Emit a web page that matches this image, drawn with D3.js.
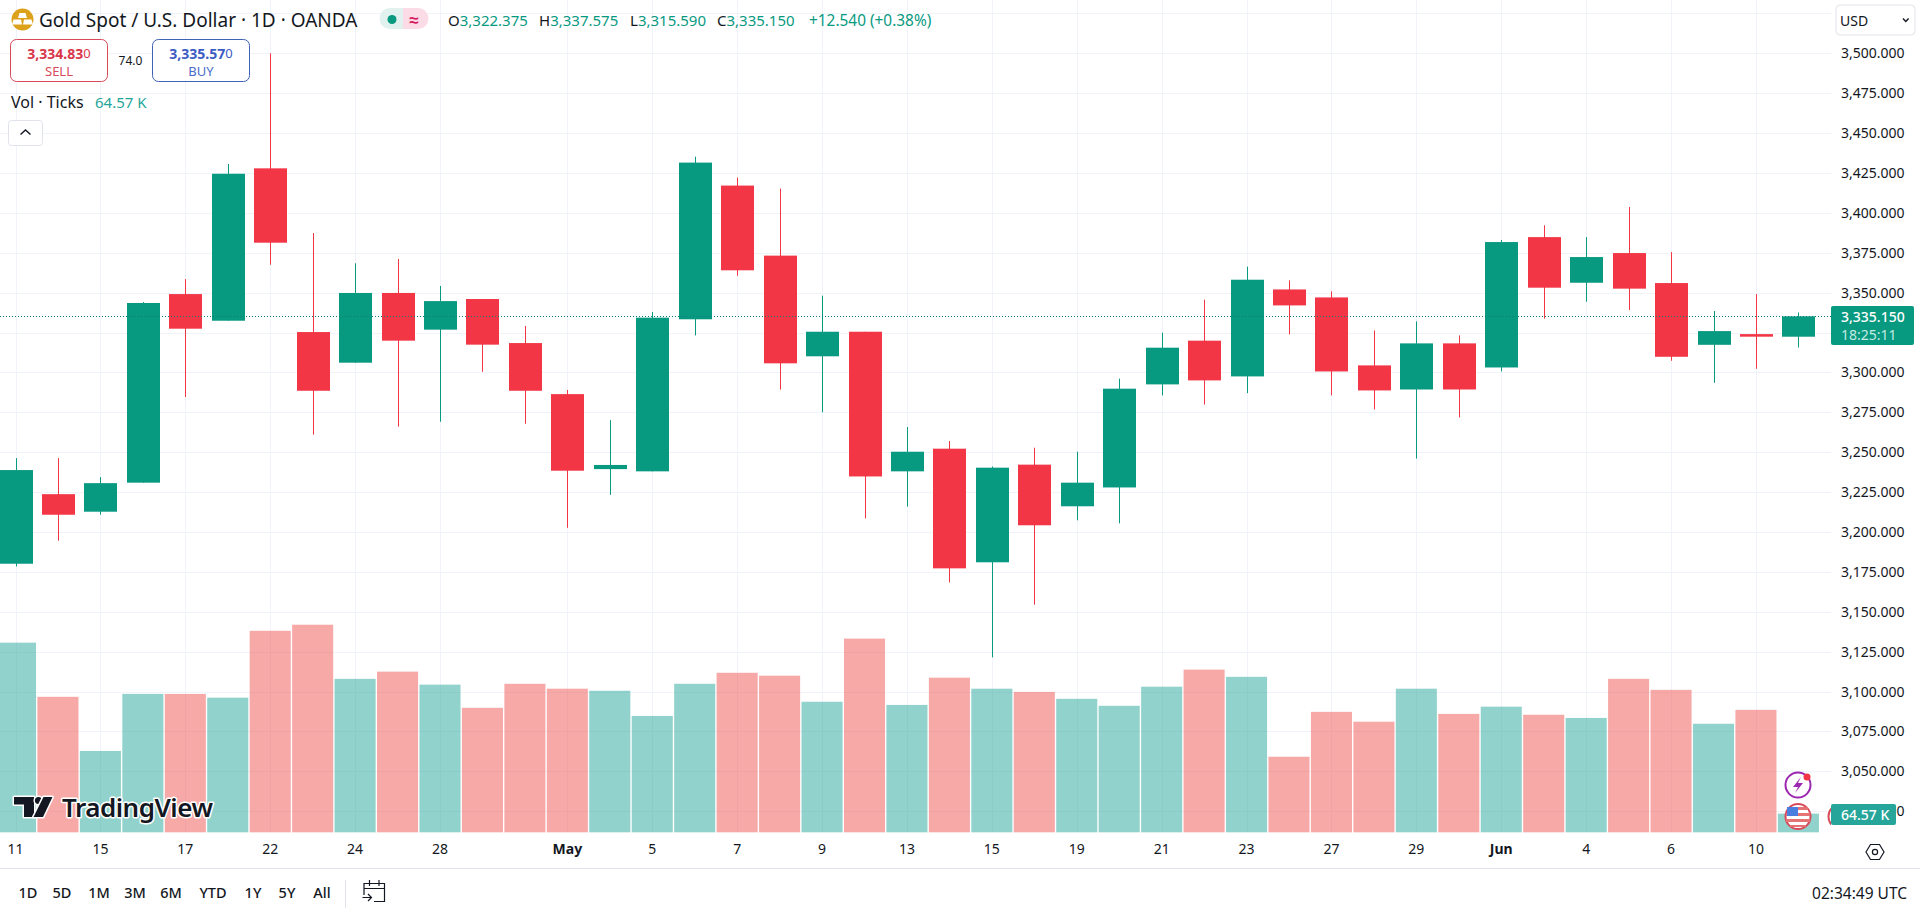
<!DOCTYPE html>
<html>
<head>
<meta charset="utf-8">
<title>Gold Spot / U.S. Dollar</title>
<script src="https://cdn.jsdelivr.net/npm/d3@7"></script>
<style>
    html, body { margin: 0; padding: 0; background: #fff; overflow: hidden; }
    svg { display: block; }
    text { font-family: "Noto Sans", sans-serif; fill: #131722; }
    .axis path, .axis line { display: none; }
    .axis text { font-family: "Noto Sans", sans-serif; font-size: 14px; fill: #131722; }
    .axis .month { font-weight: 700; }
</style>
</head>
<body>
<div id="chart"></div>
<script>
// trading days shown on the chart
const dates = [
    "2025-04-11", "2025-04-14", "2025-04-15", "2025-04-16", "2025-04-17", "2025-04-21", "2025-04-22", "2025-04-23",
    "2025-04-24", "2025-04-25", "2025-04-28", "2025-04-29", "2025-04-30", "2025-05-01", "2025-05-02", "2025-05-05",
    "2025-05-06", "2025-05-07", "2025-05-08", "2025-05-09", "2025-05-12", "2025-05-13", "2025-05-14", "2025-05-15",
    "2025-05-16", "2025-05-19", "2025-05-20", "2025-05-21", "2025-05-22", "2025-05-23", "2025-05-26", "2025-05-27",
    "2025-05-28", "2025-05-29", "2025-05-30", "2025-06-02", "2025-06-03", "2025-06-04", "2025-06-05", "2025-06-06",
    "2025-06-09", "2025-06-10", "2025-06-11"
];

// OHLC
const opens = [
    3180.1, 3223.7, 3212.7, 3230.9, 3349.1, 3332.4, 3427.9, 3325.3, 3306.1, 3349.8, 3326.8, 3346, 3318.4, 3286.4, 3239.4,
    3238, 3333.3, 3417.1, 3373.2, 3310.1, 3325.5, 3238, 3252.2, 3181, 3242.2, 3216.1, 3227.9, 3292.5, 3319.9, 3297.5,
    3352, 3347, 3304.4, 3289.3, 3318.2, 3303.1, 3384.8, 3356.2, 3374.8, 3356, 3317.3, 3324, 3322.375
];
const highs = [
    3246.3, 3246.3, 3234.4, 3344.1, 3358.5, 3430.6, 3500, 3387.4, 3368.4, 3371.1, 3354.2, 3346, 3329.1, 3289, 3270.1,
    3337.9, 3435.2, 3422.1, 3415.2, 3348.1, 3325.5, 3265.8, 3257, 3241, 3252.8, 3250.3, 3296.1, 3324.9, 3345.6, 3366.3,
    3357.7, 3350.8, 3326.3, 3332, 3323.2, 3383, 3392.2, 3384.8, 3403.7, 3375.4, 3338.5, 3349.1, 3337.575
];
const lows = [
    3178.4, 3194.5, 3210.8, 3230.9, 3284.6, 3332.4, 3367.5, 3261, 3306, 3266, 3269.1, 3300.4, 3267.8, 3202.6, 3223.3,
    3238, 3323.2, 3360.6, 3289.2, 3275, 3208.5, 3215.9, 3168.4, 3121.4, 3154.4, 3207.3, 3205.4, 3285.6, 3279.8, 3287,
    3323.8, 3285.6, 3276.8, 3246, 3271.8, 3300.6, 3333.7, 3344.3, 3339.1, 3307.3, 3293.5, 3302.3, 3315.59
];
const closes = [
    3238.8, 3210.8, 3230.6, 3343.5, 3327.4, 3424.5, 3381.3, 3288.5, 3349.8, 3319.9, 3344.7, 3317.4, 3288.5, 3238.4, 3242,
    3334.3, 3431.5, 3364, 3305.7, 3325.5, 3234.8, 3250.3, 3177.2, 3240.3, 3204.2, 3230.9, 3289.8, 3315.5, 3295, 3358.1,
    3342, 3300.6, 3288.7, 3318.2, 3289.3, 3381.7, 3353.1, 3372.3, 3352.5, 3309.8, 3325.9, 3322.4, 3335.15
];
// tick volume in thousands
const volumes = [
    655, 468, 281, 478, 478, 465, 696, 717, 530, 555, 510, 430, 513, 496, 489,
    402, 513, 551, 541, 451, 669, 440, 534, 496, 485, 461, 437, 503, 562, 537,
    261, 416, 382, 496, 409, 434, 406, 395, 530, 492, 375, 423, 64.57
];

// 3,325 sits behind the last price tag, so it only gets a grid line
const priceTicks = [3500, 3475, 3450, 3425, 3400, 3375, 3350, 3300, 3275, 3250, 3225, 3200, 3175, 3150, 3125, 3100, 3075, 3050, 3025];
const gridPrices = [3525, 3325].concat(priceTicks);
const dateTicks = {
    "2025-04-11": "11", "2025-04-15": "15", "2025-04-17": "17", "2025-04-22": "22", "2025-04-24": "24", "2025-04-28": "28",
    "2025-05-01": "May", "2025-05-05": "5", "2025-05-07": "7", "2025-05-09": "9", "2025-05-13": "13", "2025-05-15": "15",
    "2025-05-19": "19", "2025-05-21": "21", "2025-05-23": "23", "2025-05-27": "27", "2025-05-29": "29", "2025-06-02": "Jun",
    "2025-06-04": "4", "2025-06-06": "6", "2025-06-10": "10"
};
const rangeButtons = ["1D", "5D", "1M", "3M", "6M", "YTD", "1Y", "5Y", "All"];
const rangeCenters = [28, 62, 99, 135, 171, 213, 253, 287, 322];
const lastPrice = 3335.15;

const UP = "#089981", DOWN = "#F23645";
const VOL_UP = "#26a69a", VOL_DOWN = "#ef5350";
const GRID = "#f0f3fa";
const paneRight = 1831, paneBottom = 832.3;

const svg = d3.select("#chart").append("svg").attr("width", 1920).attr("height", 912);

const step = 42.45;
const x = d3.scaleBand().domain(dates).range([15.5 - step / 2, 15.5 - step / 2 + step * dates.length]);
const y = d3.scaleLinear().domain([3500, 3025]).range([53.3, 811.2]);
const yVol = d3.scaleLinear().domain([0, 1000]).range([paneBottom, paneBottom - 289.5]);
const cx = d => Math.round(x(d) + x.bandwidth() / 2) + 0.5;

const candles = dates.map((d, i) => ({ date: d, o: opens[i], h: highs[i], l: lows[i], c: closes[i], v: volumes[i] }));
const isUp = d => d.c >= d.o;

// 网格
const pane = svg.append("g");
pane.selectAll(".grid-h").data(gridPrices).enter().append("line")
    .attr("x1", 0).attr("x2", paneRight)
    .attr("y1", d => Math.round(y(d)) + 0.5).attr("y2", d => Math.round(y(d)) + 0.5)
    .attr("stroke", GRID);
pane.selectAll(".grid-v").data(Object.keys(dateTicks)).enter().append("line")
    .attr("x1", cx).attr("x2", cx)
    .attr("y1", 0).attr("y2", paneBottom)
    .attr("stroke", GRID);

// 成交量
pane.selectAll(".vol").data(candles).enter().append("rect")
    .attr("x", d => x(d.date) + 0.7)
    .attr("width", x.bandwidth() - 1.4)
    .attr("y", d => yVol(d.v))
    .attr("height", d => paneBottom - yVol(d.v))
    .attr("fill", d => isUp(d) ? VOL_UP : VOL_DOWN)
    .attr("fill-opacity", 0.5);

// 蜡烛
pane.selectAll(".wick").data(candles).enter().append("line")
    .attr("x1", d => cx(d.date)).attr("x2", d => cx(d.date))
    .attr("y1", d => y(d.h)).attr("y2", d => y(d.l))
    .attr("stroke", d => isUp(d) ? UP : DOWN);
pane.selectAll(".body").data(candles).enter().append("rect")
    .attr("x", d => cx(d.date) - 16.5)
    .attr("width", 33)
    .attr("y", d => y(Math.max(d.o, d.c)))
    .attr("height", d => Math.max(1, Math.abs(y(d.o) - y(d.c))))
    .attr("fill", d => isUp(d) ? UP : DOWN);

// 最新价虚线
pane.append("line")
    .attr("x1", 0).attr("x2", paneRight)
    .attr("y1", Math.round(y(lastPrice)) + 0.5).attr("y2", Math.round(y(lastPrice)) + 0.5)
    .attr("stroke", "#0b7f74").attr("stroke-dasharray", "1 2")
    .attr("shape-rendering", "crispEdges");

// 价格轴
const yAxis = d3.axisRight(y).tickValues(priceTicks).tickSize(0).tickPadding(0)
    .tickFormat(d3.format(",.3f"));
svg.append("g").attr("class", "axis").attr("transform", "translate(1841,0)").call(yAxis);

// 时间轴
const xAxis = d3.axisBottom(x).tickValues(Object.keys(dateTicks)).tickSize(0).tickPadding(0)
    .tickFormat(d => dateTicks[d]);
const xG = svg.append("g").attr("class", "axis").attr("transform", "translate(0,844)").call(xAxis);
xG.selectAll("text").classed("month", d => isNaN(+dateTicks[d]));

function label(parent, str, px, py, size, color, opts) {
    opts = opts || {};
    return parent.append("text").attr("x", px).attr("y", py)
        .attr("dominant-baseline", "central")
        .attr("text-anchor", opts.anchor || "start")
        .attr("font-size", size)
        .attr("font-weight", opts.weight || 400)
        .style("fill", color)
        .text(str);
}

// 事件图标
function drawIcons() {
    const g = svg.append("g");
    g.append("circle").attr("cx", 1798).attr("cy", 785).attr("r", 12.5)
        .attr("fill", "#fff").attr("stroke", "#9c27b0").attr("stroke-width", 2);
    g.append("path").attr("d", "M1801 777 L1793 787 L1798 787 L1795 793 L1803 783 L1798 783 Z").attr("fill", "#9c27b0");
    g.append("circle").attr("cx", 1807).attr("cy", 777).attr("r", 3.5).attr("fill", DOWN);

    // only the edge of this one shows, the volume tag covers the rest
    svg.append("clipPath").attr("id", "pane-clip").append("rect")
        .attr("x", 0).attr("y", 0).attr("width", paneRight).attr("height", paneBottom);
    g.append("circle").attr("cx", 1841).attr("cy", 816.5).attr("r", 12.5)
        .attr("fill", "#fff").attr("stroke", "#d9495a").attr("stroke-width", 2)
        .attr("clip-path", "url(#pane-clip)");
    g.append("circle").attr("cx", 1798).attr("cy", 816.5).attr("r", 12.5)
        .attr("fill", "#fff").attr("stroke", "#d9495a").attr("stroke-width", 2);
    g.append("rect").attr("x", 1788).attr("y", 807).attr("width", 20).attr("height", 3).attr("fill", "#e57373");
    g.append("rect").attr("x", 1786).attr("y", 813).attr("width", 24).attr("height", 3).attr("fill", "#e57373");
    g.append("rect").attr("x", 1786).attr("y", 819).attr("width", 24).attr("height", 3).attr("fill", "#e57373");
    g.append("rect").attr("x", 1790).attr("y", 825).attr("width", 16).attr("height", 2).attr("fill", "#e57373");
    g.append("rect").attr("x", 1787).attr("y", 807).attr("width", 11).attr("height", 9).attr("fill", "#4a7fe0");
}
drawIcons();

// 价格标签
svg.append("rect").attr("x", 1831).attr("y", 306).attr("width", 83).attr("height", 39).attr("rx", 2).attr("fill", UP);
label(svg, "3,335.150", 1841, 316, 14, "#fff", { weight: 500 });
label(svg, "18:25:11", 1841, 334.5, 14, "#c5ebe3");
svg.append("rect").attr("x", 1831).attr("y", 804).attr("width", 65).attr("height", 21).attr("rx", 2).attr("fill", VOL_UP);
label(svg, "64.57 K", 1841, 814.5, 14, "#fff", { weight: 500 });

// 币种按钮
svg.append("rect").attr("x", 1836).attr("y", 5).attr("width", 79).attr("height", 30).attr("rx", 4)
    .attr("fill", "#fff").attr("stroke", "#e0e3eb");
label(svg, "USD", 1840, 20.5, 14, "#131722");
svg.append("path").attr("d", "M1903 18.5 L1905.8 21.5 L1908.6 18.5").attr("fill", "none").attr("stroke", "#131722").attr("stroke-width", 1.4);

// 标题栏
function drawHeader() {
    const g = svg.append("g");
    g.append("circle").attr("cx", 22.5).attr("cy", 19.5).attr("r", 11).attr("fill", "#dca21c");
    g.append("path").attr("d", "M19.5 13 H25.5 L27 18 H18 Z M13.5 19.5 H21 L22 24.5 H12 Z M24 19.5 H31.5 L33 24.5 H23 Z").attr("fill", "#fff");
    label(g, "Gold Spot / U.S. Dollar · 1D · OANDA", 39, 20, 19, "#131722");

    g.append("path").attr("d", "M403 8 H390 A10.5 10.5 0 0 0 390 29 H403 Z").attr("fill", "#e0f1ee");
    g.append("path").attr("d", "M403 8 H418 A10.5 10.5 0 0 1 418 29 H403 Z").attr("fill", "#fbdbe6");
    g.append("circle").attr("cx", 392).attr("cy", 19.5).attr("r", 4.5).attr("fill", UP);
    label(g, "≈", 414, 19, 17, "#d81b60", { anchor: "middle", weight: 700 });

    const ohlc = [["O", "3,322.375", 448], ["H", "3,337.575", 539], ["L", "3,315.590", 630], ["C", "3,335.150", 717]];
    ohlc.forEach(item => {
        const t = label(g, item[0], item[2], 20, 15, "#131722");
        t.append("tspan").style("fill", UP).text(item[1]);
    });
    label(g, "+12.540 (+0.38%)", 809, 20, 15.4, UP);

    // 买卖按钮
    g.append("rect").attr("x", 10.5).attr("y", 39.5).attr("width", 97).attr("height", 42).attr("rx", 6)
        .attr("fill", "#fff").attr("stroke", "#d9495a");
    const sell = label(g, "3,334.83", 59, 53, 14, "#d9364b", { anchor: "middle", weight: 700 });
    sell.append("tspan").attr("font-weight", 400).attr("font-size", 13).text("0");
    label(g, "SELL", 59, 70.5, 13, "#d9495a", { anchor: "middle" });
    label(g, "74.0", 130.5, 60, 12, "#131722", { anchor: "middle" });
    g.append("rect").attr("x", 152.5).attr("y", 39.5).attr("width", 97).attr("height", 42).attr("rx", 6)
        .attr("fill", "#fff").attr("stroke", "#3f62b5");
    const buy = label(g, "3,335.57", 201, 53, 14, "#3b5cc4", { anchor: "middle", weight: 700 });
    buy.append("tspan").attr("font-weight", 400).attr("font-size", 13).text("0");
    label(g, "BUY", 201, 70.5, 13, "#4a6cc9", { anchor: "middle" });

    label(g, "Vol · Ticks", 11, 101.5, 16, "#131722");
    label(g, "64.57 K", 95, 101.5, 15, VOL_UP);

    g.append("rect").attr("x", 8.5).attr("y", 120.5).attr("width", 34).attr("height", 25).attr("rx", 3)
        .attr("fill", "#fff").attr("stroke", "#e0e3eb");
    g.append("path").attr("d", "M20.5 134.5 L25.5 130 L30.5 134.5").attr("fill", "none").attr("stroke", "#131722").attr("stroke-width", 1.4);
}
drawHeader();

// TradingView 水印
function drawWatermark() {
    const g = svg.append("g");
    const halo = sel => sel.attr("stroke", "#fff").attr("stroke-width", 3).attr("paint-order", "stroke").attr("stroke-linejoin", "round");
    g.append("path").attr("d", "M14 797 H34 V817 H24 V804.5 H14 Z").attr("fill", "#131722").call(halo);
    g.append("circle").attr("cx", 38.5).attr("cy", 800.5).attr("r", 3.6).attr("fill", "#131722").call(halo);
    g.append("path").attr("d", "M43.5 797 H52.5 L43 817 H33.5 Z").attr("fill", "#131722").call(halo);
    const t = label(g, "TradingView", 62, 807, 26, "#131722", { weight: 600 }).call(halo);
    t.style("letter-spacing", "-0.5px");
}
drawWatermark();

// 设置图标
svg.append("path").attr("d", "M1866 852 L1870.5 844.5 H1879.5 L1884 852 L1879.5 859.5 H1870.5 Z")
    .attr("fill", "none").attr("stroke", "#131722").attr("stroke-width", 1.2);
svg.append("circle").attr("cx", 1875).attr("cy", 852).attr("r", 2.6).attr("fill", "none").attr("stroke", "#131722").attr("stroke-width", 1.2);

// 底部工具栏
svg.append("line").attr("x1", 0).attr("x2", 1920).attr("y1", 868.5).attr("y2", 868.5).attr("stroke", "#e0e3eb");
svg.selectAll(".range").data(rangeButtons).enter().append("text")
    .attr("x", (d, i) => rangeCenters[i]).attr("y", 892)
    .attr("dominant-baseline", "central").attr("text-anchor", "middle")
    .attr("font-size", 14.5).attr("font-weight", 500)
    .text(d => d);
svg.append("line").attr("x1", 345.5).attr("x2", 345.5).attr("y1", 880).attr("y2", 908).attr("stroke", "#e0e3eb");
svg.append("path").attr("d", "M364 895 V883.5 H384.5 V901.5 H374 M364 888.5 H384.5 M369.5 880 V886 M379 880 V886 M362.5 897.5 H371.5 M368 894 L371.5 897.5 L368 901")
    .attr("fill", "none").attr("stroke", "#131722").attr("stroke-width", 1.2);
label(svg, "02:34:49 UTC", 1907, 892.5, 15.5, "#131722", { anchor: "end" });
</script>
</body>
</html>
